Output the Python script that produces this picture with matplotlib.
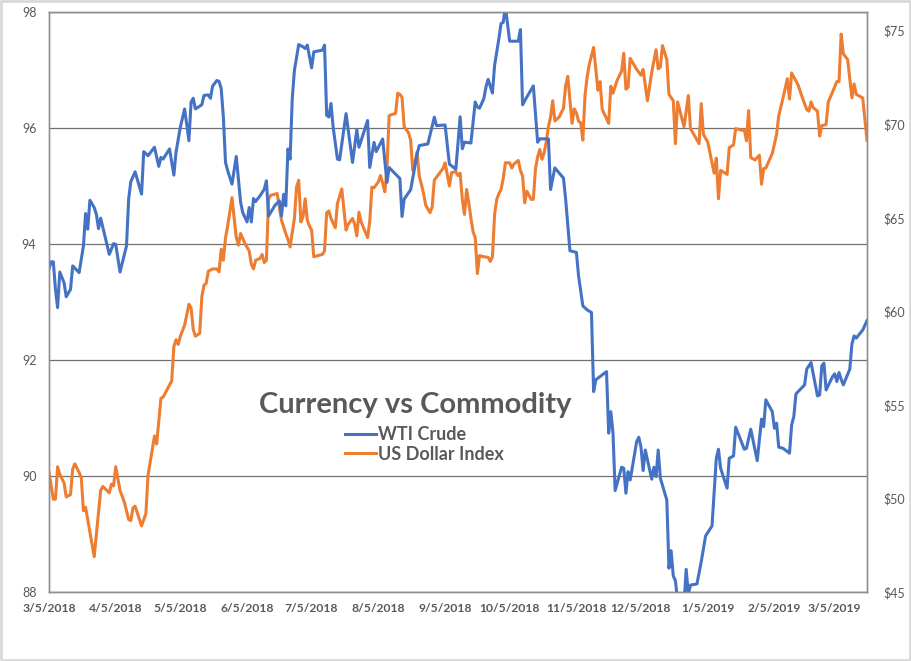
import pandas as pd
import matplotlib
matplotlib.use('Agg')
import matplotlib.pyplot as plt
import matplotlib.dates as mdates
from matplotlib.ticker import FuncFormatter
from matplotlib.patches import Rectangle

# Currency vs Commodity: US Dollar Index (left axis) against WTI crude (right axis)
dxy_dates = [
    '2018-03-05', '2018-03-07', '2018-03-08', '2018-03-09', '2018-03-10', '2018-03-12', '2018-03-13',
    '2018-03-15', '2018-03-16', '2018-03-17', '2018-03-19', '2018-03-20', '2018-03-21', '2018-03-22',
    '2018-03-24', '2018-03-26', '2018-03-29', '2018-03-30', '2018-04-02', '2018-04-03', '2018-04-04',
    '2018-04-05', '2018-04-07', '2018-04-09', '2018-04-11', '2018-04-12', '2018-04-13', '2018-04-14',
    '2018-04-17', '2018-04-19', '2018-04-20', '2018-04-23', '2018-04-24', '2018-04-26', '2018-04-27',
    '2018-05-01', '2018-05-02', '2018-05-03', '2018-05-04', '2018-05-05', '2018-05-07', '2018-05-09',
    '2018-05-10', '2018-05-11', '2018-05-12', '2018-05-14', '2018-05-15', '2018-05-16', '2018-05-17',
    '2018-05-18', '2018-05-20', '2018-05-22', '2018-05-23', '2018-05-24', '2018-05-25', '2018-05-26',
    '2018-05-27', '2018-05-29', '2018-05-31', '2018-06-01', '2018-06-02', '2018-06-04', '2018-06-06',
    '2018-06-07', '2018-06-08', '2018-06-09', '2018-06-11', '2018-06-12', '2018-06-13', '2018-06-14',
    '2018-06-15', '2018-06-16', '2018-06-19', '2018-06-20', '2018-06-21', '2018-06-23', '2018-06-24',
    '2018-06-25', '2018-06-27', '2018-06-28', '2018-06-29', '2018-06-30', '2018-07-01', '2018-07-02',
    '2018-07-03', '2018-07-04', '2018-07-05', '2018-07-06', '2018-07-10', '2018-07-11', '2018-07-12',
    '2018-07-13', '2018-07-14', '2018-07-16', '2018-07-17', '2018-07-19', '2018-07-21', '2018-07-22',
    '2018-07-24', '2018-07-25', '2018-07-26', '2018-07-27', '2018-07-28', '2018-07-31', '2018-08-01',
    '2018-08-02', '2018-08-03', '2018-08-05', '2018-08-06', '2018-08-07', '2018-08-08', '2018-08-09',
    '2018-08-10', '2018-08-11', '2018-08-13', '2018-08-14', '2018-08-15', '2018-08-16', '2018-08-17',
    '2018-08-19', '2018-08-20', '2018-08-21', '2018-08-22', '2018-08-23', '2018-08-24', '2018-08-25',
    '2018-08-26', '2018-08-27', '2018-08-29', '2018-08-30', '2018-08-31', '2018-09-02', '2018-09-04',
    '2018-09-05', '2018-09-06', '2018-09-07', '2018-09-08', '2018-09-10', '2018-09-11', '2018-09-12',
    '2018-09-13', '2018-09-14', '2018-09-15', '2018-09-16', '2018-09-17', '2018-09-18', '2018-09-19',
    '2018-09-20', '2018-09-21', '2018-09-23', '2018-09-25', '2018-09-26', '2018-09-27', '2018-09-28',
    '2018-09-29', '2018-09-30', '2018-10-01', '2018-10-02', '2018-10-03', '2018-10-05', '2018-10-06',
    '2018-10-07', '2018-10-09', '2018-10-10', '2018-10-11', '2018-10-12', '2018-10-13', '2018-10-15',
    '2018-10-16', '2018-10-17', '2018-10-18', '2018-10-19', '2018-10-20', '2018-10-21', '2018-10-22',
    '2018-10-23', '2018-10-24', '2018-10-25', '2018-10-26', '2018-10-28', '2018-10-30', '2018-10-31',
    '2018-11-01', '2018-11-02', '2018-11-03', '2018-11-04', '2018-11-05', '2018-11-06', '2018-11-07',
    '2018-11-08', '2018-11-09', '2018-11-10', '2018-11-11', '2018-11-13', '2018-11-15', '2018-11-16',
    '2018-11-17', '2018-11-20', '2018-11-21', '2018-11-22', '2018-11-24', '2018-11-26', '2018-11-27',
    '2018-11-28', '2018-11-29', '2018-11-30', '2018-12-03', '2018-12-05', '2018-12-06', '2018-12-08',
    '2018-12-10', '2018-12-12', '2018-12-13', '2018-12-14', '2018-12-15', '2018-12-17', '2018-12-18',
    '2018-12-20', '2018-12-21', '2018-12-22', '2018-12-25', '2018-12-27', '2018-12-28', '2019-01-01',
    '2019-01-02', '2019-01-03', '2019-01-05', '2019-01-08', '2019-01-09', '2019-01-10', '2019-01-11',
    '2019-01-14', '2019-01-15', '2019-01-17', '2019-01-18', '2019-01-21', '2019-01-22', '2019-01-23',
    '2019-01-24', '2019-01-25', '2019-01-27', '2019-01-29', '2019-01-30', '2019-01-31', '2019-02-01',
    '2019-02-04', '2019-02-06', '2019-02-07', '2019-02-09', '2019-02-11', '2019-02-12', '2019-02-13',
    '2019-02-16', '2019-02-18', '2019-02-20', '2019-02-21', '2019-02-22', '2019-02-23', '2019-02-25',
    '2019-02-26', '2019-02-27', '2019-03-01', '2019-03-02', '2019-03-04', '2019-03-06', '2019-03-07',
    '2019-03-08', '2019-03-09', '2019-03-11', '2019-03-13', '2019-03-14', '2019-03-15', '2019-03-18',
    '2019-03-20',
]
dxy_values = [
    90.06, 89.60, 89.60, 90.16, 90.03, 89.88, 89.64,
    89.68, 90.12, 90.21, 90.06, 89.97, 89.40, 89.46,
    89.04, 88.61, 89.75, 89.82, 89.71, 89.86, 89.83,
    90.16, 89.75, 89.55, 89.25, 89.23, 89.45, 89.48,
    89.14, 89.35, 90.01, 90.69, 90.55, 91.34, 91.36,
    91.64, 92.23, 92.35, 92.27, 92.41, 92.60, 92.96,
    92.90, 92.53, 92.41, 92.46, 93.09, 93.29, 93.32,
    93.53, 93.57, 93.57, 93.52, 93.91, 93.72, 94.11,
    94.31, 94.80, 94.11, 93.98, 94.18, 94.01, 93.88,
    93.65, 93.57, 93.72, 93.75, 93.82, 93.68, 93.72,
    94.77, 94.84, 94.87, 94.64, 94.41, 94.18, 94.08,
    93.95, 94.44, 94.98, 95.10, 94.38, 94.47, 94.78,
    94.41, 94.31, 94.24, 93.78, 93.82, 93.88, 94.54,
    94.57, 94.44, 94.28, 94.70, 94.95, 94.24, 94.34,
    94.44, 94.34, 94.14, 94.55, 94.38, 94.11, 94.39,
    94.98, 94.97, 95.07, 95.18, 95.05, 94.90, 95.30,
    96.21, 96.23, 96.25, 96.60, 96.58, 96.53, 96.02,
    95.92, 95.79, 95.27, 95.40, 95.59, 95.17, 95.03,
    94.87, 94.67, 94.54, 94.64, 95.10, 95.20, 95.30,
    95.40, 95.20, 95.00, 95.23, 95.25, 95.18, 95.22,
    94.77, 94.51, 94.94, 94.71, 94.45, 94.21, 94.11,
    93.49, 93.80, 93.78, 93.77, 93.70, 93.78, 94.51,
    94.77, 94.87, 94.94, 95.13, 95.40, 95.40, 95.31,
    95.38, 95.44, 95.27, 95.17, 94.71, 94.91, 94.77,
    94.77, 95.30, 95.50, 95.63, 95.46, 95.57, 95.76,
    96.02, 96.19, 96.47, 96.12, 96.19, 96.34, 96.73,
    96.89, 96.48, 96.08, 96.33, 96.26, 96.12, 96.09,
    95.79, 96.56, 96.88, 97.10, 97.39, 96.65, 96.80,
    96.32, 96.08, 96.72, 96.60, 96.83, 96.98, 97.29,
    96.67, 96.70, 97.20, 97.01, 96.91, 97.01, 96.47,
    96.96, 97.35, 97.02, 97.05, 97.42, 97.18, 96.58,
    96.47, 95.73, 96.45, 96.02, 96.56, 95.99, 95.73,
    96.42, 95.89, 95.76, 95.22, 95.48, 94.78, 95.27,
    95.20, 95.66, 95.71, 95.99, 95.96, 95.97, 95.78,
    96.30, 95.49, 95.45, 95.53, 95.03, 95.30, 95.31,
    95.56, 95.89, 96.21, 96.52, 96.85, 96.50, 96.95,
    96.74, 96.52, 96.32, 96.29, 96.45, 96.35, 96.29,
    95.86, 96.04, 96.06, 96.45, 96.62, 96.80, 96.80,
    97.62, 97.28, 97.18, 96.52, 96.76, 96.58, 96.52,
    95.79,
]

wti_dates = [
    '2018-03-05', '2018-03-06', '2018-03-07', '2018-03-08', '2018-03-09', '2018-03-10', '2018-03-12',
    '2018-03-13', '2018-03-15', '2018-03-16', '2018-03-19', '2018-03-21', '2018-03-22', '2018-03-23',
    '2018-03-24', '2018-03-26', '2018-03-27', '2018-03-28', '2018-03-29', '2018-04-02', '2018-04-04',
    '2018-04-05', '2018-04-07', '2018-04-10', '2018-04-11', '2018-04-12', '2018-04-14', '2018-04-17',
    '2018-04-18', '2018-04-20', '2018-04-23', '2018-04-25', '2018-04-26', '2018-04-27', '2018-04-30',
    '2018-05-02', '2018-05-03', '2018-05-05', '2018-05-07', '2018-05-09', '2018-05-10', '2018-05-11',
    '2018-05-12', '2018-05-15', '2018-05-16', '2018-05-18', '2018-05-19', '2018-05-20', '2018-05-22',
    '2018-05-23', '2018-05-24', '2018-05-25', '2018-05-26', '2018-05-27', '2018-05-29', '2018-05-31',
    '2018-06-01', '2018-06-02', '2018-06-03', '2018-06-05', '2018-06-06', '2018-06-07', '2018-06-08',
    '2018-06-09', '2018-06-11', '2018-06-13', '2018-06-14', '2018-06-15', '2018-06-18', '2018-06-20',
    '2018-06-21', '2018-06-22', '2018-06-23', '2018-06-24', '2018-06-25', '2018-06-26', '2018-06-27',
    '2018-06-29', '2018-07-01', '2018-07-02', '2018-07-03', '2018-07-05', '2018-07-06', '2018-07-10',
    '2018-07-11', '2018-07-12', '2018-07-13', '2018-07-14', '2018-07-15', '2018-07-17', '2018-07-18',
    '2018-07-21', '2018-07-24', '2018-07-26', '2018-07-27', '2018-07-31', '2018-08-01', '2018-08-03',
    '2018-08-04', '2018-08-07', '2018-08-09', '2018-08-10', '2018-08-15', '2018-08-16', '2018-08-17',
    '2018-08-20', '2018-08-23', '2018-08-24', '2018-08-28', '2018-08-31', '2018-09-01', '2018-09-05',
    '2018-09-07', '2018-09-10', '2018-09-12', '2018-09-13', '2018-09-14', '2018-09-17', '2018-09-19',
    '2018-09-20', '2018-09-21', '2018-09-23', '2018-09-24', '2018-09-25', '2018-09-27', '2018-09-28',
    '2018-09-30', '2018-10-01', '2018-10-02', '2018-10-03', '2018-10-05', '2018-10-07', '2018-10-09',
    '2018-10-10', '2018-10-11', '2018-10-13', '2018-10-16', '2018-10-18', '2018-10-19', '2018-10-23',
    '2018-10-24', '2018-10-26', '2018-10-30', '2018-10-31', '2018-11-02', '2018-11-05', '2018-11-06',
    '2018-11-08', '2018-11-10', '2018-11-12', '2018-11-13', '2018-11-14', '2018-11-15', '2018-11-19',
    '2018-11-20', '2018-11-21', '2018-11-22', '2018-11-23', '2018-11-26', '2018-11-27', '2018-11-28',
    '2018-11-29', '2018-11-30', '2018-12-03', '2018-12-04', '2018-12-05', '2018-12-06', '2018-12-07',
    '2018-12-10', '2018-12-11', '2018-12-12', '2018-12-13', '2018-12-14', '2018-12-17', '2018-12-18',
    '2018-12-19', '2018-12-20', '2018-12-21', '2018-12-24', '2018-12-26', '2018-12-27', '2018-12-28',
    '2018-12-31', '2019-01-02', '2019-01-04', '2019-01-07', '2019-01-09', '2019-01-10', '2019-01-11',
    '2019-01-14', '2019-01-15', '2019-01-17', '2019-01-18', '2019-01-22', '2019-01-23', '2019-01-25',
    '2019-01-28', '2019-01-30', '2019-01-31', '2019-02-01', '2019-02-04', '2019-02-05', '2019-02-06',
    '2019-02-07', '2019-02-09', '2019-02-12', '2019-02-13', '2019-02-14', '2019-02-15', '2019-02-19',
    '2019-02-20', '2019-02-22', '2019-02-25', '2019-02-26', '2019-02-27', '2019-02-28', '2019-03-01',
    '2019-03-04', '2019-03-05', '2019-03-06', '2019-03-07', '2019-03-08', '2019-03-09', '2019-03-12',
    '2019-03-13', '2019-03-14', '2019-03-15', '2019-03-18', '2019-03-20',
]
wti_values = [
    62.26, 62.65, 62.65, 61.18, 60.20, 62.10, 61.53,
    60.78, 61.18, 62.43, 62.07, 63.50, 65.23, 64.39,
    65.94, 65.55, 65.19, 64.42, 64.98, 63.05, 63.62,
    63.58, 62.10, 63.50, 66.00, 66.93, 67.46, 66.27,
    68.54, 68.32, 68.77, 67.75, 68.23, 68.14, 68.68,
    67.28, 68.50, 69.84, 70.82, 69.12, 71.18, 71.39,
    70.82, 71.04, 71.54, 71.57, 71.39, 72.04, 72.34,
    72.29, 71.90, 70.38, 67.96, 67.52, 66.80, 68.28,
    67.07, 65.85, 65.28, 64.78, 65.55, 64.78, 66.03,
    65.87, 66.17, 66.53, 66.98, 65.10, 65.67, 65.90,
    65.10, 66.26, 65.64, 68.68, 68.14, 71.36, 72.88,
    74.26, 74.14, 74.05, 74.23, 73.01, 73.87, 73.96,
    74.23, 70.48, 70.39, 71.11, 69.84, 68.14, 68.10,
    70.57, 67.96, 69.71, 68.77, 70.20, 67.69, 69.03,
    68.54, 69.21, 66.89, 67.69, 67.10, 65.07, 66.00,
    66.50, 68.41, 68.86, 68.95, 70.38, 69.93, 69.96,
    67.87, 67.60, 70.40, 68.69, 69.04, 69.00, 71.19,
    70.92, 70.86, 71.37, 71.99, 72.40, 71.67, 73.15,
    74.58, 75.39, 75.44, 76.30, 74.44, 74.44, 74.44,
    75.06, 71.04, 71.46, 72.05, 69.04, 69.22, 69.22,
    66.51, 67.67, 67.12, 66.00, 63.24, 63.15, 61.90,
    60.29, 60.08, 59.94, 55.71, 56.34, 56.43, 56.78,
    53.49, 54.64, 53.49, 50.42, 51.67, 51.61, 50.28,
    51.43, 50.99, 53.04, 53.27, 52.74, 51.49, 52.59,
    51.03, 51.67, 51.17, 52.59, 51.08, 49.92, 46.27,
    47.21, 45.86, 45.60, 42.50, 46.21, 44.90, 45.37,
    45.43, 46.62, 47.99, 48.53, 52.15, 52.63, 51.61,
    50.55, 52.15, 52.27, 53.81, 52.63, 52.68, 53.70,
    52.02, 54.24, 53.84, 55.27, 54.64, 53.75, 54.02,
    52.74, 52.68, 52.42, 53.93, 54.38, 55.59, 56.07,
    56.91, 57.26, 55.48, 55.53, 57.09, 57.23, 55.80,
    56.51, 56.66, 56.25, 56.73, 56.37, 56.07, 56.91,
    58.26, 58.69, 58.57, 59.00, 59.50,
]

dxy_ticks = [88, 90, 92, 94, 96, 98]
wti_ticks = [45, 50, 55, 60, 65, 70, 75]

dxy_x = pd.to_datetime(dxy_dates)
wti_x = pd.to_datetime(wti_dates)

text_col = '#595959'
plt.rcParams['font.family'] = ['Lato', 'DejaVu Sans']

fig = plt.figure(figsize=(9.11, 6.61), dpi=100)
ax = fig.add_axes([49 / 911, 1 - 592 / 661, (867 - 49) / 911, (592 - 12) / 661])
ax2 = ax.twinx()

ax.plot(dxy_x, dxy_values, color='#ED7D31', lw=2.2, label='US Dollar Index', solid_joinstyle='round')
ax2.plot(wti_x, wti_values, color='#4472C4', lw=2.2, label='WTI Crude', solid_joinstyle='round')

ax.set_xlim(pd.Timestamp('2018-03-05'), pd.Timestamp('2019-03-20'))
ax.set_ylim(88, 98)
ax.set_yticks(dxy_ticks)
ax2.set_ylim(45, 76.0)
ax2.set_yticks(wti_ticks)
ax2.yaxis.set_major_formatter(FuncFormatter(lambda v, p: '${:.0f}'.format(v)))

ax.xaxis.set_major_locator(mdates.MonthLocator(bymonthday=5))
ax.xaxis.set_major_formatter(FuncFormatter(
    lambda v, p: '{d.month}/{d.day}/{d.year}'.format(d=mdates.num2date(v))))

ax.grid(axis='y', color='#707070', lw=0.9)
ax.set_axisbelow(True)
for a in (ax, ax2):
    for s in a.spines.values():
        s.set_color('#8f8f8f')
        s.set_linewidth(1.0)
ax.tick_params(axis='x', length=0, pad=8, labelsize=8.7, labelcolor=text_col)
for lbl in ax.get_xticklabels():
    lbl.set_fontweight('bold')
ax.tick_params(axis='y', length=0, pad=9, labelsize=9, labelcolor=text_col)
ax2.tick_params(axis='y', length=0, pad=12, labelsize=9, labelcolor=text_col)

fig.text(415 / 911, 1 - 405 / 661, 'Currency vs Commodity', ha='center', va='center',
         fontsize=21, fontweight='bold', color=text_col)
handles = ax2.get_lines() + ax.get_lines()
leg = fig.legend(handles, [h.get_label() for h in handles], loc='upper left',
                 bbox_to_anchor=(336 / 911, 1 - 417 / 661), frameon=False, fontsize=13,
                 handlelength=1.7, handletextpad=0.1, labelspacing=0.15, borderpad=0)
for t in leg.get_texts():
    t.set_color(text_col)
    t.set_fontweight('bold')

fig.patches.append(Rectangle((0.001, 0.001), 0.998, 0.997, transform=fig.transFigure,
                             fill=False, edgecolor='#d9d9d9', lw=2))

fig.savefig('out.png', dpi=100)
